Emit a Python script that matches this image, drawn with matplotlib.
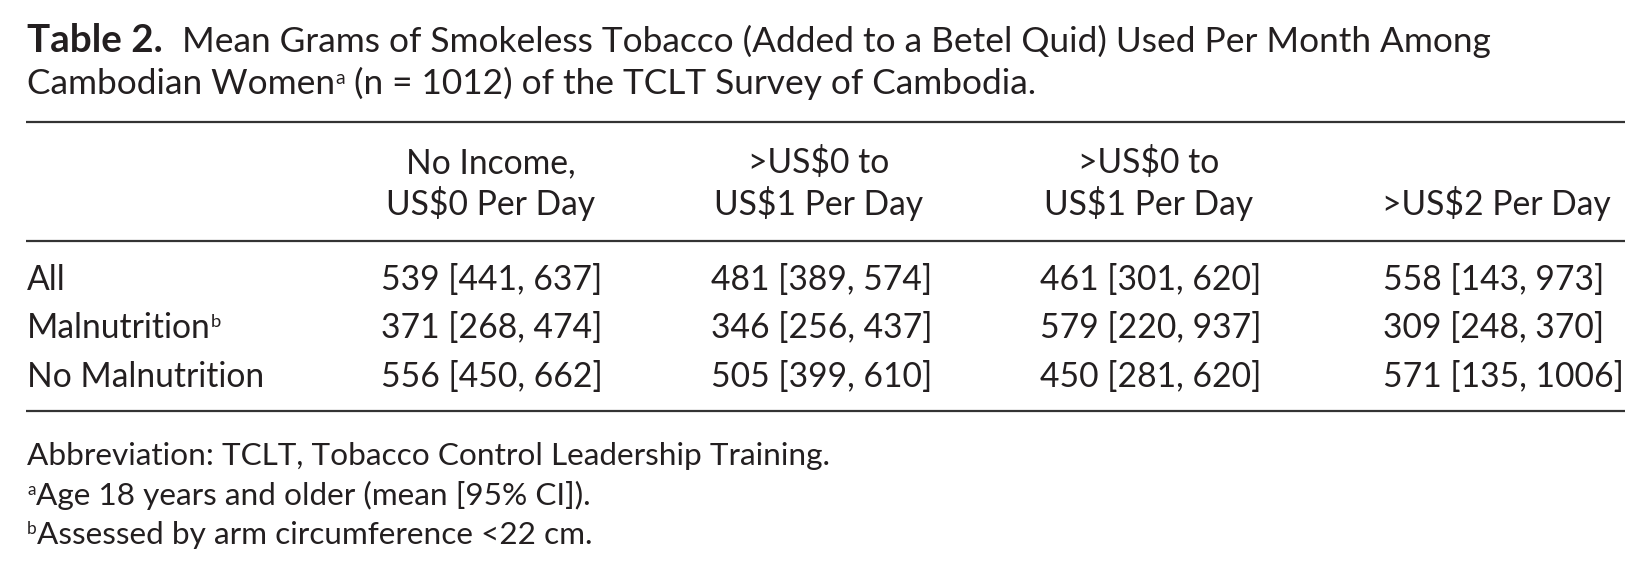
import matplotlib
matplotlib.use("Agg")
import matplotlib.pyplot as plt

# ---------------- data ----------------
title_bold = "Table 2."
title_line1 = "Mean Grams of Smokeless Tobacco (Added to a Betel Quid) Used Per Month Among"
title_line2_a = "Cambodian Women"
title_line2_b = " (n = 1012) of the TCLT Survey of Cambodia."

col_headers = [
    ["No Income,", "US$0 Per Day"],
    [">US$0 to", "US$1 Per Day"],
    [">US$0 to", "US$1 Per Day"],
    ["", ">US$2 Per Day"],
]
row_labels = ["All", "Malnutrition", "No Malnutrition"]
row_sup = ["", "b", ""]
means = [[539, 481, 461, 558],
         [371, 346, 579, 309],
         [556, 505, 450, 571]]
lower = [[441, 389, 301, 143],
         [268, 256, 220, 248],
         [450, 399, 281, 135]]
upper = [[637, 574, 620, 973],
         [474, 437, 937, 370],
         [662, 610, 620, 1006]]
footnotes = [("", "Abbreviation: TCLT, Tobacco Control Leadership Training."),
             ("a", "Age 18 years and older (mean [95% CI])."),
             ("b", "Assessed by arm circumference <22 cm.")]

# ---------------- layout ----------------
W, H = 1651, 576
FONT = "Lato"
COLOR = "#231f20"

fig = plt.figure(figsize=(W / 100, H / 100), dpi=100)
ax = fig.add_axes([0, 0, 1, 1])
ax.set_xlim(0, W)
ax.set_ylim(H, 0)
ax.axis("off")
renderer = fig.canvas.get_renderer()


def width(s, size, weight="normal"):
    t = ax.text(0, 0, s, fontsize=size, family=FONT, fontweight=weight)
    w = t.get_window_extent(renderer).width
    t.remove()
    return w


def fit(s, target, weight="normal"):
    return 20 * target / width(s, 20, weight)


def put(x, y, s, size, weight="normal", ha="left"):
    return ax.text(x, y, s, fontsize=size, family=FONT, fontweight=weight,
                   color=COLOR, ha=ha, va="baseline")


def put_runs(x, y, runs):
    """runs: list of (text, size, dy)"""
    for s, size, dy in runs:
        put(x, y - dy, s, size)
        x += width(s, size)


L = 27
R = 1625

# title
s_bold = fit(title_bold, 136, "bold")
s_title = fit(title_line1, 1311)
put(L, 52, title_bold, s_bold, "bold")
put(182, 52, title_line1, s_title)
put_runs(L, 94, [(title_line2_a, s_title, 0),
                 ("a", s_title * 0.55, 10),
                 (title_line2_b, s_title, 0)])

# rules
for yy in (122, 241, 411):
    ax.plot([26, R], [yy, yy], color="#333333", lw=1.6, solid_capstyle="butt")

# headers
s_body = fit("539 [441, 637]", 221)
head_cx = [491, 819, 1149, 1496]
for cx, (h1, h2) in zip(head_cx, col_headers):
    if h1:
        put(cx, 173, h1, s_body, ha="center")
    put(cx, 215, h2, s_body, ha="center")

# body
data_x = [381, 711, 1040, 1383]
row_y = [290, 338, 387]
for i, (lab, sup) in enumerate(zip(row_labels, row_sup)):
    runs = [(lab, s_body, 0)]
    if sup:
        runs.append((sup, s_body * 0.55, 11))
    put_runs(L, row_y[i], runs)
    for j in range(4):
        put(data_x[j], row_y[i], f"{means[i][j]} [{lower[i][j]}, {upper[i][j]}]", s_body)

# footnotes
s_foot = fit(footnotes[0][1], 802)
foot_y = [465, 505, 544]
for (sup, txt), yy in zip(footnotes, foot_y):
    runs = []
    if sup:
        runs.append((sup, s_foot * 0.55, 10))
    runs.append((txt, s_foot, 0))
    put_runs(L, yy, runs)

fig.savefig("out.png", dpi=100, facecolor="white")
